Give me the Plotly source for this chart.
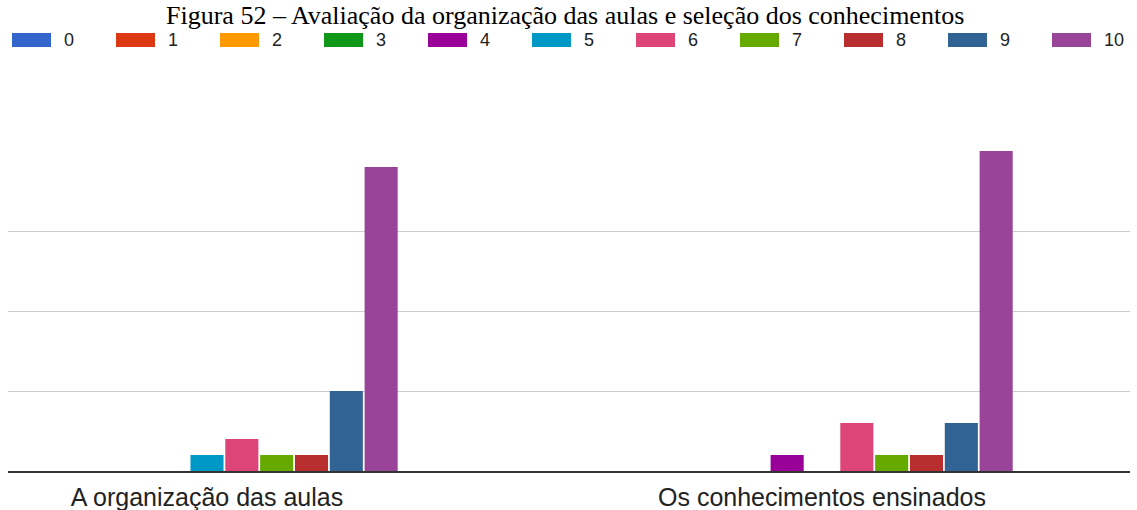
import plotly.graph_objects as go

categories = ["A organização das aulas", "Os conhecimentos ensinados"]
scores = ["0", "1", "2", "3", "4", "5", "6", "7", "8", "9", "10"]
values = {
    "0": [0, 0],
    "1": [0, 0],
    "2": [0, 0],
    "3": [0, 0],
    "4": [0, 1],
    "5": [1, 0],
    "6": [2, 3],
    "7": [1, 1],
    "8": [1, 1],
    "9": [5, 3],
    "10": [19, 20],
}
colors = ["#3366CC", "#DC3912", "#FF9900", "#109618", "#990099", "#0099C6",
          "#DD4477", "#66AA00", "#B82E2E", "#316395", "#994499"]
title = "Figura 52 – Avaliação da organização das aulas e seleção dos conhecimentos"

W, H = 1137, 510
ml, mr, mt, mb = 8, 7, 151, 39
pw = W - ml - mr
ph = H - mt - mb


def px_x(xpx):
    return (xpx - ml) / pw


def px_y(ypx):
    return (H - mb - ypx) / ph


fig = go.Figure()
xpos = list(range(len(categories)))
for s, c in zip(scores, colors):
    fig.add_trace(go.Bar(x=xpos, y=values[s], name=s,
                         marker=dict(color=c, line=dict(width=0)),
                         showlegend=False))

# legend drawn with large swatches like the original
shapes = []
annotations = []
for i, (s, c) in enumerate(zip(scores, colors)):
    x0 = 12 + i * 104
    shapes.append(dict(type="rect", xref="paper", yref="paper",
                       x0=px_x(x0), x1=px_x(x0 + 39), y0=px_y(47), y1=px_y(33),
                       fillcolor=c, line=dict(width=0)))
    annotations.append(dict(text=s, xref="paper", yref="paper", x=px_x(x0 + 50),
                            y=px_y(40), xanchor="left", yanchor="middle", showarrow=False,
                            font=dict(family="Liberation Sans, Arial", size=18, color="#222222")))

annotations.append(dict(text=title, xref="paper", yref="paper", x=px_x(565), y=px_y(15),
                        xanchor="center", yanchor="middle", showarrow=False,
                        font=dict(family="Liberation Serif, Times New Roman", size=26,
                                  color="#000000")))

pxu = 615.0
left = -(207 - ml) / pxu
right = 1 + (W - mr - 822) / pxu

fig.update_layout(
    width=W, height=H,
    margin=dict(l=ml, r=mr, t=mt, b=mb, autoexpand=False),
    paper_bgcolor="white", plot_bgcolor="white",
    barmode="group", bargap=0.377, bargroupgap=0.05,
    shapes=shapes, annotations=annotations,
    xaxis=dict(range=[left, right], tickvals=xpos, ticktext=categories, showgrid=False,
               showline=True, linecolor="#333333", linewidth=2, ticks="", zeroline=False,
               automargin=False, ticklabelstandoff=3,
               tickfont=dict(family="Liberation Sans, Arial", size=25, color="#222222")),
    yaxis=dict(range=[0, 20], tickvals=[5, 10, 15], showticklabels=False, showgrid=True,
               gridcolor="#CCCCCC", gridwidth=1, zeroline=False, showline=False,
               automargin=False),
)

fig.write_html("out.html", config={"displayModeBar": False},
               post_script="document.body.style.margin='0';")
